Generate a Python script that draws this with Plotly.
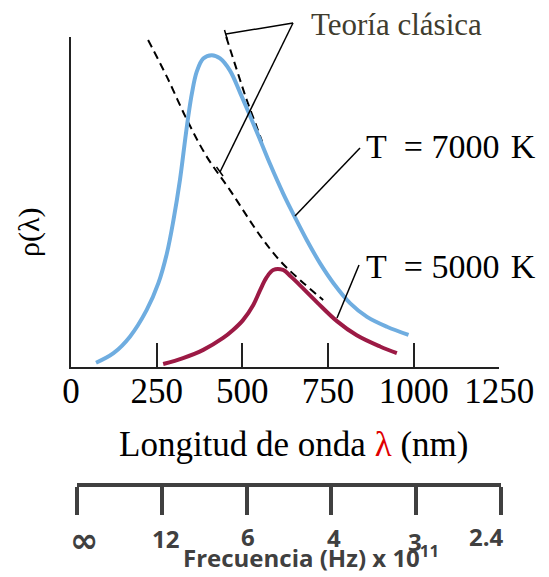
import plotly.graph_objects as go

# The page body has an 8px margin, so the figure is drawn 8px in from the corner.
OFF = 8
W, H = 549 - OFF, 577 - OFF

# ---------------- data ----------------
blue_lambda = [73, 124, 172, 221, 255, 280, 299, 318, 333, 343, 353, 367, 386, 411, 435,
               464, 494, 523, 552, 581, 620, 654, 688, 727, 766, 815, 864, 922, 985]
blue_rho = [1.3, 4.2, 9.2, 17.3, 25.4, 34.5, 44.5, 56.7, 68.8, 76.5, 83.0, 89.5, 93.5, 94.5, 93.5,
            89.8, 83.0, 76.0, 68.8, 61.5, 52.4, 45.3, 38.5, 31.4, 25.4, 19.3, 15.2, 12.2, 9.7]

red_lambda = [269, 327, 386, 444, 473, 502, 532, 552, 570, 590, 619, 640, 659, 718, 776, 834, 902, 951]
red_rho = [0.9, 2.7, 5.2, 8.8, 11.2, 14.2, 18.8, 23.3, 27.0, 29.4, 29.4, 27.6, 25.7, 19.6, 13.9,
           9.6, 6.2, 4.2]

classic5000_lambda = [225, 280, 339, 397, 464, 552, 610, 669, 736]
classic5000_rho = [99.1, 87.9, 74.8, 63.6, 53.6, 39.8, 32.2, 26.3, 20.3]

classic7000_lambda = [453, 484, 513, 542, 558]
classic7000_rho = [100.0, 90.0, 80.9, 72.8, 68.2]

x_ticks = [0, 250, 500, 750, 1000, 1250]
freq_tick_pos = [0, 1, 2, 3, 4, 5]
freq_tick_labels = ["∞", "12", "6", "4", "3", "2.4"]

BLUE = "#6fade0"
RED = "#9c1a45"
SERIF = "Liberation Serif"
SANS = "Open Sans"
GRAY = "#404040"


def P(x, y):
    """screen pixel -> paper fraction (margins are zero)"""
    return (x - OFF) / W, 1 - (y - OFF) / H


fig = go.Figure()

for lx, ly in [(classic5000_lambda, classic5000_rho), (classic7000_lambda, classic7000_rho)]:
    fig.add_trace(go.Scatter(x=lx, y=ly, mode="lines",
                             line=dict(color="black", width=2, dash="8px,5px", shape="spline"),
                             hoverinfo="skip"))
fig.add_trace(go.Scatter(x=blue_lambda, y=blue_rho, mode="lines",
                         line=dict(color=BLUE, width=4, shape="spline", smoothing=1.0)))
fig.add_trace(go.Scatter(x=red_lambda, y=red_rho, mode="lines",
                         line=dict(color=RED, width=4, shape="spline", smoothing=1.0)))
# invisible trace carrying the frequency axis
fig.add_trace(go.Scatter(x=freq_tick_pos, y=[None] * len(freq_tick_pos), xaxis="x2", yaxis="y",
                         mode="lines", showlegend=False, hoverinfo="skip"))

x0, _ = P(71, 0)
x1, _ = P(499.3, 0)
_, yb = P(0, 367)
_, yt = P(0, 37)
fx0, _ = P(77, 0)
fx1, _ = P(501, 0)
_, fy = P(0, 485)

fig.update_layout(
    width=W, height=H, template="none",
    margin=dict(l=0, r=0, t=0, b=0, pad=0),
    paper_bgcolor="white", plot_bgcolor="rgba(0,0,0,0)",
    showlegend=False,
    xaxis=dict(domain=[x0, x1], range=[0, 1250], showline=True, linecolor="#222", linewidth=2,
               ticks="inside", ticklen=24, tickwidth=1.5, tickcolor="#222",
               tickvals=x_ticks, ticktext=[str(v) for v in x_ticks],
               tickfont=dict(family=SERIF, size=35, color="black"), ticklabelstandoff=-8,
               showgrid=False, zeroline=False, automargin=False),
    yaxis=dict(domain=[yb, yt], range=[0, 100], showline=True, linecolor="#222", linewidth=2,
               ticks="", showticklabels=False, showgrid=False, zeroline=False, automargin=False),
    xaxis2=dict(domain=[fx0, fx1], range=[0, 5], anchor="free", position=fy, side="bottom",
                showline=True, linecolor=GRAY, linewidth=4,
                ticks="outside", ticklen=28, tickwidth=4, tickcolor=GRAY,
                tickvals=freq_tick_pos, showticklabels=False,
                showgrid=False, zeroline=False, automargin=False),
)

# frequency labels
freq_label_px = [(84, 540), (165, 538), (247.5, 536), (334, 537), (414.5, 541), (486.5, 536)]
for lab, (px, py) in zip(freq_tick_labels, freq_label_px):
    ax_, ay_ = P(px, py)
    if lab == "∞":
        fnt = dict(family="DejaVu Sans", size=34, color=GRAY)
    else:
        fnt = dict(family=SANS, size=24, color=GRAY)
    fig.add_annotation(x=ax_, y=ay_, xref="paper", yref="paper", text=f"<b>{lab}</b>",
                       showarrow=False, xanchor="center", yanchor="middle", font=fnt)

ax_, ay_ = P(311, 556)
fig.add_annotation(x=ax_, y=ay_, xref="paper", yref="paper",
                   text="<b>Frecuencia (Hz) x 10<sup>11</sup></b>",
                   showarrow=False, xanchor="center", yanchor="middle",
                   font=dict(family=SANS, size=24, color=GRAY))

# axis titles
ax_, ay_ = P(293, 444)
fig.add_annotation(x=ax_, y=ay_, xref="paper", yref="paper",
                   text="Longitud de onda <span style='color:#e00000'>λ</span> (nm)",
                   showarrow=False, xanchor="center", yanchor="middle",
                   font=dict(family=SERIF, size=35, color="black"))
ax_, ay_ = P(29, 232)
fig.add_annotation(x=ax_, y=ay_, xref="paper", yref="paper", text="ρ(λ)", textangle=-90,
                   showarrow=False, xanchor="center", yanchor="middle",
                   font=dict(family=SERIF, size=30, color="black"))

# curve labels
for txt, (px, py), col, sz in [("Teoría clásica", (309, 24), "#403c2e", 31),
                               ("T\u2002= 7000 \u200aK", (364, 146), "black", 34),
                               ("T\u2002= 5000 \u200aK", (364, 266), "black", 34)]:
    ax_, ay_ = P(px, py)
    fig.add_annotation(x=ax_, y=ay_, xref="paper", yref="paper", text=txt,
                       showarrow=False, xanchor="left", yanchor="middle",
                       font=dict(family=SERIF, size=sz, color=col))

# leader lines
leaders = [((293, 23), (226, 34)), ((293, 23), (220, 172)),
           ((360, 148), (295, 216)), ((359, 265), (337, 318)),
           ((224.5, 30), (227.5, 40)), ((216.5, 167), (223, 176))]
for (a, b) in leaders:
    xa, ya = P(*a)
    xb, yb2 = P(*b)
    fig.add_shape(type="line", xref="paper", yref="paper", x0=xa, y0=ya, x1=xb, y1=yb2,
                  line=dict(color="black", width=1.5))

fig.write_html("out.html")
